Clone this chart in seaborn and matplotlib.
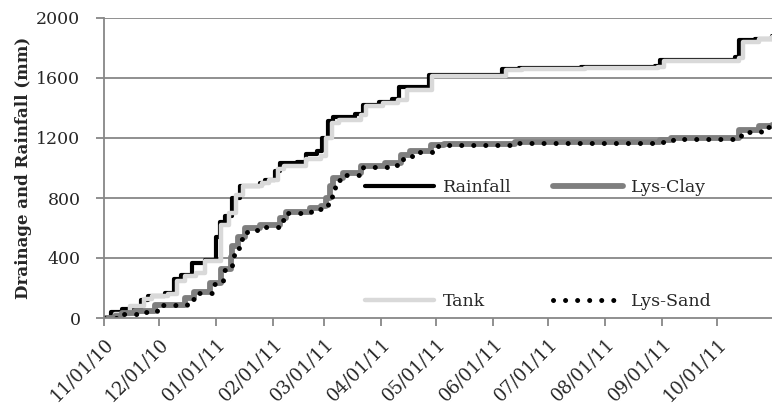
import pandas as pd
import numpy as np
import matplotlib.pyplot as plt
import seaborn as sns

# step data: day offset from 11/01/10 and cumulative mm
start = pd.Timestamp('2010-11-01')
end_day = 364

rain_days = [0, 4, 10, 20, 24, 33, 38, 42, 48, 55, 61, 63, 66, 70, 74, 85, 88, 93, 96, 105,
             110, 116, 119, 122, 125, 137, 141, 150, 157, 161, 177, 217, 226, 260, 300, 303,
             344, 346, 355, 364]
rain_vals = [0, 40, 60, 120, 145, 170, 260, 290, 370, 390, 540, 640, 680, 800, 880, 900, 920, 980,
             1030, 1040, 1090, 1110, 1200, 1310, 1340, 1360, 1420, 1440, 1460, 1540, 1620, 1660,
             1665, 1670, 1680, 1720, 1740, 1850, 1860, 1880]

tank_days = [0, 6, 14, 22, 26, 35, 40, 44, 50, 55, 64, 68, 72, 76, 86, 90, 95, 98, 110, 118,
             121, 124, 128, 140, 143, 152, 160, 165, 179, 219, 228, 262, 302, 305, 346, 348,
             357, 364]
tank_vals = [0, 30, 80, 130, 150, 160, 250, 280, 300, 380, 620, 700, 820, 880, 900, 920, 990,
             1010, 1060, 1080, 1200, 1300, 1320, 1350, 1410, 1430, 1450, 1520, 1610, 1655,
             1660, 1665, 1675, 1715, 1735, 1840, 1860, 1875]

clay_days = [0, 6, 10, 17, 28, 44, 49, 58, 64, 69, 70, 73, 77, 85, 96, 99, 112, 118, 121, 123,
             125, 130, 140, 153, 162, 167, 178, 185, 224, 303, 309, 346, 357, 364]
clay_vals = [0, 15, 35, 45, 90, 135, 175, 235, 330, 410, 480, 540, 600, 620, 665, 710, 735, 750,
             800, 880, 930, 965, 1015, 1030, 1085, 1115, 1155, 1160, 1175, 1185, 1200, 1250,
             1280, 1285]

sand_days = [0, 7, 11, 18, 29, 45, 50, 59, 65, 70, 71, 74, 78, 86, 97, 100, 113, 119, 122, 124,
             126, 131, 141, 154, 163, 168, 179, 186, 225, 304, 310, 347, 358, 364]
sand_vals = [0, 10, 30, 40, 87, 130, 170, 230, 320, 400, 470, 530, 587, 607, 653, 700, 727, 740,
             787, 867, 920, 953, 1007, 1020, 1073, 1107, 1147, 1153, 1167, 1173, 1193, 1240,
             1273, 1280]

tick_dates = ['11/01/10', '12/01/10', '01/01/11', '02/01/11', '03/01/11', '04/01/11',
              '05/01/11', '06/01/11', '07/01/11', '08/01/11', '09/01/11', '10/01/11']
y_ticks = [0, 400, 800, 1200, 1600, 2000]


def make_df(days, vals, name):
    return pd.DataFrame({'date': start + pd.to_timedelta(days, unit='D'),
                         'mm': vals, 'series': name})


sns.set_theme(style='white')
plt.rcParams['font.family'] = ['DejaVu Serif']

fig = plt.figure(figsize=(7.72, 4.19), dpi=100)
ax = fig.add_axes([104 / 772, 1 - 318 / 419, 668 / 772, 300 / 419])

grid_c = '#878787'
for y in y_ticks[1:]:
    ax.axhline(y, color=grid_c, lw=1.3, zorder=0)

styles = [
    ('Rainfall', rain_days, rain_vals, dict(color='black', lw=3.0)),
    ('Tank', tank_days, tank_vals, dict(color='#d9d9d9', lw=3.2)),
    ('Lys-Clay', clay_days, clay_vals, dict(color='#7f7f7f', lw=4.2)),
    ('Lys-Sand', sand_days, sand_vals, dict(color='black', lw=3.6, linestyle=(0, (0.01, 2.4)),
                                              dash_capstyle='round')),
]
for name, d, v, kw in styles:
    df = make_df(d, v, name)
    sns.lineplot(data=df, x='date', y='mm', ax=ax, drawstyle='steps-post',
                 solid_capstyle='round', label=name, **kw)

ax.set_xlim(start, start + pd.Timedelta(days=end_day))
ax.set_ylim(0, 2000)
ax.set_yticks(y_ticks)
ax.set_yticklabels([str(y) for y in y_ticks], fontsize=12.5)
xt = pd.to_datetime(tick_dates, format='%m/%d/%y')
ax.set_xticks(xt)
ax.set_xticklabels(tick_dates, rotation=45, ha='right', rotation_mode='anchor', fontsize=13)
ax.tick_params(axis='x', which='major', direction='out', length=6, width=1.3, color=grid_c,
               pad=6, bottom=True)
ax.tick_params(axis='y', which='major', direction='out', length=6, width=1.3, color=grid_c,
               pad=11, left=True)
ax.set_xlabel('')
ax.set_ylabel('Drainage and Rainfall (mm)', fontsize=12, fontweight='bold', labelpad=3)

for s in ['top', 'right']:
    ax.spines[s].set_visible(False)
for s in ['left', 'bottom']:
    ax.spines[s].set_color(grid_c)
    ax.spines[s].set_linewidth(1.3)

h, l = ax.get_legend_handles_labels()
leg = ax.legend(h, l, ncol=2, frameon=False,
                loc='upper left', bbox_to_anchor=(0.367, 0.515), fontsize=12.5,
                handlelength=4.0, handletextpad=0.5, labelspacing=5.6, columnspacing=2.4)

fig.savefig('out.png', dpi=100)
